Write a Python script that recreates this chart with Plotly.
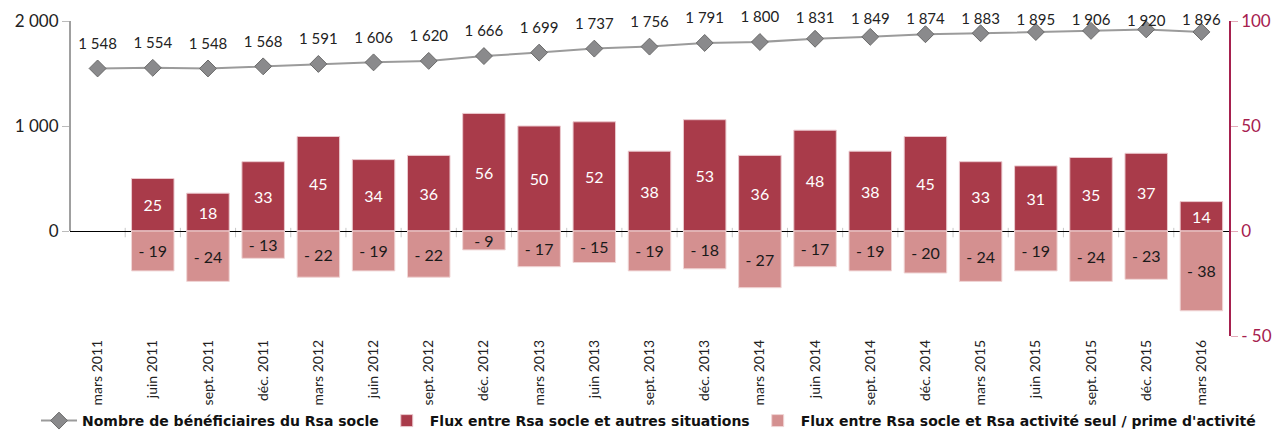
import plotly.graph_objects as go

categories = ["mars 2011", "juin 2011", "sept. 2011", "déc. 2011",
              "mars 2012", "juin 2012", "sept. 2012", "déc. 2012",
              "mars 2013", "juin 2013", "sept. 2013", "déc. 2013",
              "mars 2014", "juin 2014", "sept. 2014", "déc. 2014",
              "mars 2015", "juin 2015", "sept. 2015", "déc. 2015",
              "mars 2016"]
beneficiaires = [1548, 1554, 1548, 1568, 1591, 1606, 1620, 1666, 1699, 1737,
                 1756, 1791, 1800, 1831, 1849, 1874, 1883, 1895, 1906, 1920, 1896]
flux_autres = [None, 25, 18, 33, 45, 34, 36, 56, 50, 52, 38, 53, 36, 48, 38,
               45, 33, 31, 35, 37, 14]
flux_activite = [None, -19, -24, -13, -22, -19, -22, -9, -17, -15, -19, -18,
                 -27, -17, -19, -20, -24, -19, -24, -23, -38]

left_ticks = [0, 1000, 2000]
right_ticks = [-50, 0, 50, 100]

name_line = "Nombre de bénéficiaires du Rsa socle"
name_dark = "Flux entre Rsa socle et autres situations"
name_light = "Flux entre Rsa socle et Rsa activité seul / prime d'activité"

FONT = "Lato"
LEGEND_FONT = "DejaVu Sans"
DARK = "#A93B4A"
LIGHT = "#D49090"
CRIMSON = "#A6204E"

W, H = 1276, 430
M_L, M_R, M_T, M_B = 70, 47, 21, 94
Y_RANGE = [-1000, 2000]


def fmt_thousands(v):
    return f"{v:,}".replace(",", " ")


def fmt_signed(v):
    if v is None:
        return ""
    return f"- {abs(v)}" if v < 0 else f"{v}"


# label offset above each point; labels are kept inside the chart's top edge
plot_h = H - M_T - M_B
px_per_unit = plot_h / (Y_RANGE[1] - Y_RANGE[0])
label_sizes = []
for v in beneficiaires:
    y_px = M_T + (Y_RANGE[1] - v) * px_per_unit
    offset = min(25.0, y_px - 17.0)
    label_sizes.append(max(0.0, 2 * (offset - 13.0)))

fig = go.Figure()

fig.add_trace(go.Scatter(
    x=categories, y=beneficiaires, name=name_line, mode="lines+markers",
    line=dict(color="#9B9B9B", width=2),
    marker=dict(symbol="diamond", size=13, color="#8A8A8C",
                line=dict(color="#6A6A6A", width=1)),
    yaxis="y", cliponaxis=False, hoverinfo="x+y",
))

# value labels of the line (invisible markers set the label offset)
fig.add_trace(go.Scatter(
    x=categories, y=beneficiaires, mode="markers+text", showlegend=False,
    marker=dict(size=label_sizes, color="rgba(0,0,0,0)", opacity=0,
                line=dict(width=0, color="rgba(0,0,0,0)")),
    text=[fmt_thousands(v) for v in beneficiaires],
    textposition="top center",
    textfont=dict(family=FONT, size=15, color="#222222"),
    yaxis="y", cliponaxis=False, hoverinfo="skip",
))

fig.add_trace(go.Bar(
    x=categories, y=flux_autres, name=name_dark, yaxis="y2",
    marker=dict(color=DARK, line=dict(color="#EBC9CE", width=1)),
    text=[fmt_signed(v) for v in flux_autres], textposition="inside",
    insidetextanchor="middle", constraintext="none",
    textfont=dict(family=FONT, size=16, color="white"),
    width=0.77,
))

fig.add_trace(go.Bar(
    x=categories, y=flux_activite, name=name_light, yaxis="y2",
    marker=dict(color=LIGHT, line=dict(color="#F0D6D6", width=1)),
    text=[fmt_signed(v) for v in flux_activite], textposition="inside",
    insidetextanchor="middle", constraintext="none",
    textfont=dict(family=FONT, size=16, color="#1A1A1A"),
    width=0.77,
))

shapes = [dict(type="line", xref="paper", yref="y", x0=0, x1=0, y0=0, y1=2000,
               line=dict(color="#404040", width=1))]
for i in range(len(categories) - 1):
    shapes.append(dict(type="line", xref="x", yref="y", x0=i + 0.5, x1=i + 0.5,
                       y0=30, y1=-60, line=dict(color="#C8C8C8", width=1),
                       layer="below"))

plot_w = W - M_L - M_R
fig.update_layout(
    width=W, height=H,
    margin=dict(l=M_L, r=M_R, t=M_T, b=M_B, autoexpand=False),
    paper_bgcolor="white", plot_bgcolor="white",
    barmode="relative", bargap=0.23,
    font=dict(family=FONT, color="#222222"),
    showlegend=True,
    legend=dict(orientation="h", x=(36 - M_L) / plot_w, xanchor="left",
                y=(H - M_B - 421) / plot_h, yanchor="middle",
                bgcolor="rgba(0,0,0,0)",
                font=dict(family=LEGEND_FONT, size=14, color="#111111",
                          weight="bold"),
                itemwidth=36, tracegroupgap=0, traceorder="normal"),
    xaxis=dict(type="category", tickangle=-90, showline=False, ticks="",
               showgrid=False, range=[-0.5, len(categories) - 0.5],
               automargin=False,
               tickfont=dict(family=FONT, size=14, color="#222222")),
    yaxis=dict(range=Y_RANGE, tickvals=left_ticks,
               ticktext=[fmt_thousands(v) for v in left_ticks],
               showgrid=False, showline=False, zeroline=True,
               zerolinecolor="#000000", zerolinewidth=1, automargin=False,
               ticks="outside", ticklen=7, tickcolor="#BBBBBB",
               tickfont=dict(family=FONT, size=17, color="#222222")),
    yaxis2=dict(range=[-50, 100], tickvals=right_ticks,
                ticktext=[fmt_signed(v) for v in right_ticks],
                overlaying="y", side="right", showgrid=False, zeroline=False,
                showline=True, linecolor=CRIMSON, linewidth=1.5,
                automargin=False,
                ticks="outside", ticklen=7, tickcolor="#E3A9B8",
                tickfont=dict(family=FONT, size=17, color=CRIMSON)),
    shapes=shapes,
)

fig.write_html(
    "out.html",
    config={"displayModeBar": False},
    post_script="document.body.style.margin='0';"
                "document.body.style.overflow='hidden';",
)
